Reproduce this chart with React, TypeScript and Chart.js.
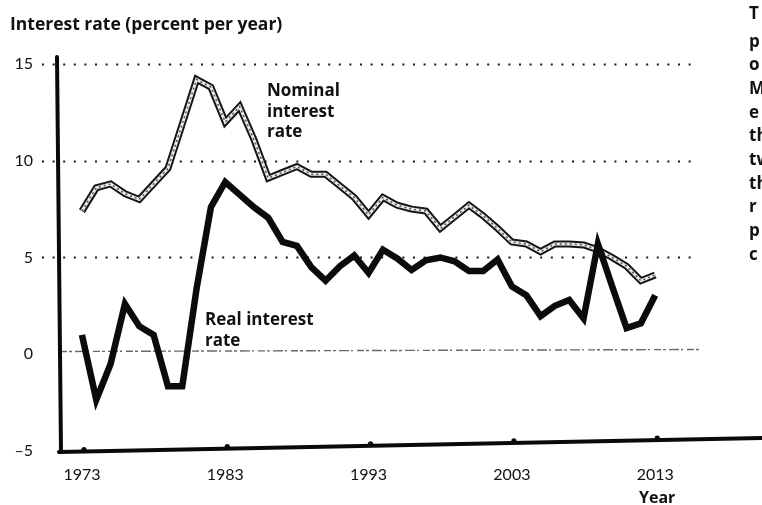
import React, { useEffect, useRef } from "react";
import { Chart, registerables } from "chart.js";

Chart.register(...registerables);

const years = [
  1973, 1974, 1975, 1976, 1977, 1978, 1979, 1980, 1981, 1982,
  1983, 1984, 1985, 1986, 1987, 1988, 1989, 1990, 1991, 1992,
  1993, 1994, 1995, 1996, 1997, 1998, 1999, 2000, 2001, 2002,
  2003, 2004, 2005, 2006, 2007, 2008, 2009, 2010, 2011, 2012, 2013,
];
const nominalRate = [
  7.4, 8.6, 8.8, 8.3, 8.0, 8.8, 9.6, 11.9, 14.2, 13.8,
  12.0, 12.8, 11.1, 9.1, 9.4, 9.7, 9.3, 9.3, 8.7, 8.1,
  7.2, 8.1, 7.7, 7.5, 7.4, 6.5, 7.1, 7.7, 7.15, 6.5,
  5.8, 5.7, 5.3, 5.7, 5.7, 5.65, 5.4, 5.0, 4.55, 3.8, 4.1,
];
const realRate = [
  1.0, -2.35, -0.5, 2.6, 1.45, 1.0, -1.65, -1.65, 3.4, 7.6,
  8.9, 8.25, 7.6, 7.05, 5.8, 5.6, 4.5, 3.8, 4.55, 5.1,
  4.2, 5.4, 4.95, 4.35, 4.85, 5.0, 4.8, 4.3, 4.3, 4.9,
  3.5, 3.05, 1.97, 2.5, 2.8, 1.85, 5.7, 3.5, 1.35, 1.6, 3.05,
];
const yTickValues = [-5, 0, 5, 10, 15];
const xTickValues = [1973, 1983, 1993, 2003, 2013];
const dottedGridValues = [5, 10, 15];
const zeroLineValue = 0;
const gridEndYear = 2015.8;
const sideLetters = ["p", "o", "M", "e", "th", "tw", "th", "r", "p", "c"];

const TICK_FONT = "Lato, 'Open Sans', 'DejaVu Sans', sans-serif";
const LABEL_FONT = "'Open Sans', Lato, 'DejaVu Sans', sans-serif";

export default function App() {
  const ref = useRef<HTMLCanvasElement | null>(null);

  useEffect(() => {
    const canvas = ref.current;
    if (!canvas) return;

    const decor = {
      id: "decor",
      beforeDatasetsDraw(chart: any) {
        const { ctx, scales } = chart;
        const x = scales.x;
        const y = scales.y;
        ctx.save();
        ctx.strokeStyle = "#1a1a1a";
        ctx.lineWidth = 2;
        ctx.setLineDash([2, 8.6]);
        const xEnd = x.getPixelForValue(gridEndYear);
        for (const v of dottedGridValues) {
          const py = Math.round(y.getPixelForValue(v)) + 0.5;
          ctx.beginPath();
          ctx.moveTo(42, py);
          ctx.lineTo(xEnd, py);
          ctx.stroke();
        }
        const pz = Math.round(y.getPixelForValue(zeroLineValue)) - 2.5;
        ctx.strokeStyle = "#6a6a6a";
        ctx.lineWidth = 1.4;
        ctx.setLineDash([7, 2, 3, 3, 10, 2, 2, 4]);
        ctx.beginPath();
        ctx.moveTo(60, pz);
        ctx.lineTo(x.getPixelForValue(gridEndYear + 0.3), pz - 2);
        ctx.stroke();
        ctx.restore();
      },
      afterDatasetDraw(chart: any, args: any) {
        if (args.index !== 1) return;
        const { ctx } = chart;
        const pts = args.meta.data;
        ctx.save();
        ctx.lineJoin = "miter";
        ctx.beginPath();
        pts.forEach((p: any, i: number) => (i ? ctx.lineTo(p.x, p.y) : ctx.moveTo(p.x, p.y)));
        ctx.strokeStyle = "#eeeeee";
        ctx.lineWidth = 3;
        ctx.stroke();
        ctx.setLineDash([2, 3]);
        ctx.strokeStyle = "#555555";
        ctx.lineWidth = 1.6;
        ctx.stroke();
        ctx.restore();
      },
      afterDraw(chart: any) {
        const { ctx, scales, chartArea } = chart;
        const x = scales.x;
        ctx.save();
        ctx.fillStyle = "#0a0a0a";
        ctx.strokeStyle = "#0a0a0a";
        ctx.lineCap = "round";
        ctx.lineWidth = 4;
        ctx.beginPath();
        ctx.moveTo(chartArea.left - 1, chartArea.top);
        ctx.lineTo(chartArea.left + 3, chartArea.bottom + 1);
        ctx.stroke();
        const x0 = chartArea.left + 1;
        const y0 = chartArea.bottom + 1;
        const x1 = chartArea.right;
        const y1 = chartArea.bottom - 13;
        ctx.beginPath();
        ctx.moveTo(x0, y0);
        ctx.lineTo(x1, y1);
        ctx.stroke();
        for (const t of xTickValues) {
          const px = x.getPixelForValue(t) + 2;
          const py = y0 + ((px - x0) / (x1 - x0)) * (y1 - y0) - 2;
          ctx.beginPath();
          ctx.arc(px, py, 2.6, 0, Math.PI * 2);
          ctx.fill();
        }
        ctx.restore();
      },
    };

    const chart = new Chart(canvas, {
      type: "line",
      data: {
        datasets: [
          {
            label: "Real interest rate",
            data: years.map((yr, i) => ({ x: yr, y: realRate[i] })),
            borderColor: "#0b0b0b",
            borderWidth: 6.5,
            pointRadius: 0,
            tension: 0,
            borderJoinStyle: "miter",
          },
          {
            label: "Nominal interest rate",
            data: years.map((yr, i) => ({ x: yr, y: nominalRate[i] })),
            borderColor: "#151515",
            borderWidth: 7,
            pointRadius: 0,
            tension: 0,
            borderJoinStyle: "miter",
          },
        ],
      },
      options: {
        responsive: false,
        animation: false,
        events: [],
        layout: { padding: { top: 57, right: 0, left: 0, bottom: 0 } },
        plugins: { legend: { display: false }, tooltip: { enabled: false } },
        scales: {
          x: {
            type: "linear",
            min: 1971.33,
            max: 2020.45,
            grid: { display: false, drawTicks: false },
            border: { display: false },
            afterBuildTicks: (s: any) => {
              s.ticks = xTickValues.map((v) => ({ value: v }));
            },
            afterFit: (s: any) => {
              s.height = 54;
            },
            ticks: {
              autoSkip: false,
              maxRotation: 0,
              padding: 14,
              color: "#111",
              font: { family: TICK_FONT, size: 16 },
              callback: (v: any) => String(v),
            },
          },
          y: {
            min: -5,
            max: 15.36,
            grid: { display: false, drawTicks: false },
            border: { display: false },
            afterBuildTicks: (s: any) => {
              s.ticks = yTickValues.map((v) => ({ value: v }));
            },
            afterFit: (s: any) => {
              s.width = 58;
            },
            ticks: {
              padding: 25,
              color: "#111",
              font: { family: TICK_FONT, size: 16 },
              callback: (v: any) => (v < 0 ? "\u2013" + Math.abs(v) : String(v)),
            },
          },
        },
      },
      plugins: [decor],
    });

    return () => chart.destroy();
  }, []);

  const base: React.CSSProperties = {
    position: "absolute",
    fontFamily: LABEL_FONT,
    fontWeight: 700,
    color: "#111",
    whiteSpace: "nowrap",
    margin: 0,
  };

  return (
    <div
      style={{
        position: "absolute",
        left: 0,
        top: 0,
        width: 762,
        height: 505,
        overflow: "hidden",
        background: "#fff",
      }}
    >
      <canvas ref={ref} width={762} height={505} style={{ display: "block", width: 762, height: 505 }} />
      <div style={{ ...base, left: 10, top: 14.5, fontSize: 17.5, lineHeight: "17.5px" }}>
        Interest rate (percent per year)
      </div>
      <div style={{ ...base, left: 267, top: 80, fontSize: 17, lineHeight: "20.5px" }}>
        Nominal
        <br />
        interest
        <br />
        rate
      </div>
      <div style={{ ...base, left: 205, top: 308, fontSize: 17, lineHeight: "21px" }}>
        Real interest
        <br />
        rate
      </div>
      <div style={{ ...base, left: 639, top: 489, fontSize: 16, lineHeight: "16px" }}>Year</div>
      <div style={{ ...base, left: 749, top: 4, fontSize: 17, lineHeight: "17px" }}>T</div>
      <div style={{ ...base, left: 749, top: 28.5, fontSize: 17, lineHeight: "23.7px" }}>
        {sideLetters.map((s, i) => (
          <div key={i}>{s}</div>
        ))}
      </div>
    </div>
  );
}
